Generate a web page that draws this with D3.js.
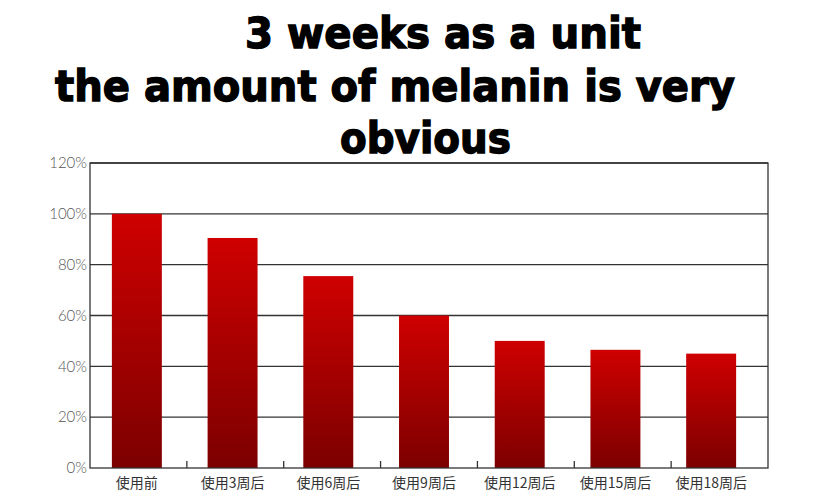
<!DOCTYPE html>
<html><head><meta charset="utf-8">
<script src="https://cdn.jsdelivr.net/npm/d3@7"></script>
<style>body{margin:0;background:#fff}</style>
</head><body>
<svg id="c" width="829" height="501"></svg>
<script>
const categories = ["使用前","使用3周后","使用6周后","使用9周后","使用12周后","使用15周后","使用18周后"];
const values = [100, 90.5, 75.5, 60, 50, 46.5, 45];
const yTicks = [0, 20, 40, 60, 80, 100, 120];
const titleLines = ["3 weeks as a unit", "the amount of melanin is very", "obvious"];

const svg = d3.select("#c");
const m = {l: 90, r: 768, t: 163, b: 468};
// frame/tick band scale
const x = d3.scaleBand().domain(categories).range([m.l, m.r]);
// bar scale (bars drift slightly left of the frame bands in the original)
const xb = d3.scaleBand().domain(categories).range([89, 759]).paddingInner(0.478).paddingOuter(0.239);
const y = d3.scaleLinear().domain([0, 120]).range([m.b, m.t]);

const defs = svg.append("defs");
const g = defs.append("linearGradient").attr("id","bg").attr("x1",0).attr("y1",0).attr("x2",0).attr("y2",1);
g.append("stop").attr("offset","0%").attr("stop-color","#cf0000");
g.append("stop").attr("offset","100%").attr("stop-color","#7c0000");

// gridlines
svg.append("g").selectAll("line").data(yTicks.filter(d=>d>0)).join("line")
  .attr("x1", m.l).attr("x2", m.r).attr("y1", d=>y(d)).attr("y2", d=>y(d))
  .attr("stroke", "#333").attr("stroke-width", 1.3);

// bars
svg.append("g").selectAll("rect").data(values).join("rect")
  .attr("x", (d,i)=>xb(categories[i])).attr("width", xb.bandwidth())
  .attr("y", d=>y(d)).attr("height", d=>y(0)-y(d))
  .attr("fill", "url(#bg)");

// frame
svg.append("rect").attr("x", m.l).attr("y", m.t).attr("width", m.r-m.l).attr("height", m.b-m.t)
  .attr("fill","none").attr("stroke","#333").attr("stroke-width",1.3);

// y axis labels
const ya = svg.append("g").attr("transform", `translate(${m.l},0)`)
  .call(d3.axisLeft(y).tickValues(yTicks).tickFormat(d=>d+"%").tickSize(0).tickPadding(3));
ya.select(".domain").remove();
ya.selectAll("text").attr("font-family","Lato, 'DejaVu Sans', sans-serif").attr("font-weight",300)
  .attr("font-size",15).attr("fill","#555");

// x axis ticks (inward) at band boundaries
svg.append("g").selectAll("line").data(categories.slice(1)).join("line")
  .attr("x1", d=>x(d)).attr("x2", d=>x(d)).attr("y1", m.b).attr("y2", m.b-7)
  .attr("stroke","#333").attr("stroke-width",1.3);

const xa = svg.append("g").attr("transform", `translate(0,${m.b})`)
  .call(d3.axisBottom(xb).tickSize(0).tickPadding(10));
xa.select(".domain").remove();
xa.selectAll("text").attr("font-family","'Noto Sans CJK SC', sans-serif").attr("font-size",14).attr("fill","#333");

// title
const tl = [
  {x: 245, yb: 48, w: 396},
  {x: 55, yb: 101, w: 680},
  {x: 340, yb: 153, w: 171}
];
svg.append("g").selectAll("text").data(titleLines).join("text")
  .attr("x", (d,i)=>tl[i].x).attr("y", (d,i)=>tl[i].yb)
  .attr("textLength", (d,i)=>tl[i].w).attr("lengthAdjust","spacingAndGlyphs")
  .attr("font-family","'DejaVu Sans', sans-serif")
  .attr("font-weight","bold").attr("font-size",42)
  .attr("fill","#000").attr("stroke","#000").attr("stroke-width",1.4).text(d=>d);
</script>
</body></html>
